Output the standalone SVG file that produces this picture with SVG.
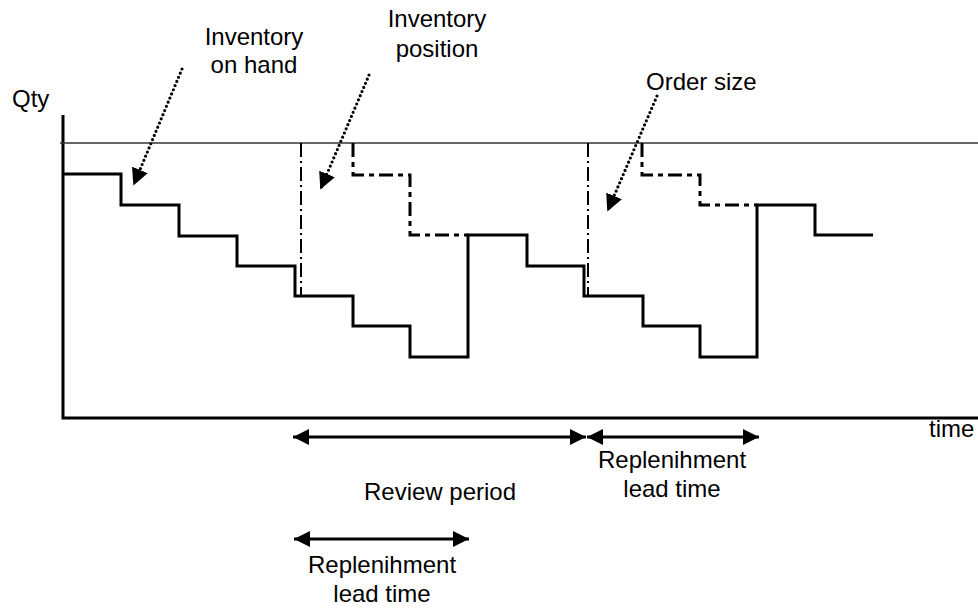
<svg xmlns="http://www.w3.org/2000/svg" width="978" height="610" viewBox="0 0 978 610">
<style>
text{font-family:"Liberation Sans",Arial,sans-serif;font-size:24px;fill:#000}
.axis{stroke:#000;stroke-width:3;fill:none}
.thin{stroke:#333;stroke-width:1.5;fill:none}
.step{stroke:#000;stroke-width:3;fill:none;stroke-linejoin:miter}
.pos{stroke:#000;stroke-width:3;fill:none;stroke-dasharray:14 5 5 5}
.dd{stroke:#000;stroke-width:2;fill:none;stroke-dasharray:14 4 2 4}
.dot{stroke:#000;stroke-width:3.2;fill:none;stroke-dasharray:0 4.5;stroke-linecap:round}
.dbl{stroke:#000;stroke-width:3;fill:none}
</style>
<defs>
<marker id="tri" viewBox="0 0 10 10" refX="9" refY="5" markerWidth="17" markerHeight="17" markerUnits="userSpaceOnUse" orient="auto">
<path d="M0,0 L10,5 L0,10 Z" fill="#000"/>
</marker>
<marker id="ah" viewBox="0 0 10 10" refX="10" refY="5" markerWidth="16" markerHeight="16" markerUnits="userSpaceOnUse" orient="auto-start-reverse">
<path d="M0,0 L10,5 L0,10 Z" fill="#000"/>
</marker>
</defs>
<g id="axes">
<path class="axis" d="M63,115 V418 H978"/>
<path class="thin" d="M60,143 H978"/>
<text x="12" y="107">Qty</text>
<text x="929" y="437">time</text>
</g>
<g id="inventory-on-hand-line">
<path class="step" d="M63,174 H121 V205 H179 V236 H237 V266 H295 V296 H353 V326 H410 V357 H468 V235 H527 V266 H584 V296 H643 V326 H700 V357 H757 V205 H815 V235 H873"/>
</g>
<g id="inventory-position-line">
<path class="pos" d="M353,143 V175 H410 V235 H468"/>
<path class="pos" d="M642,143 V175 H700 V205 H757"/>
</g>
<g id="review-lines">
<path class="dd" d="M301,143 V296"/>
<path class="dd" d="M588,143 V296"/>
</g>
<g id="label-on-hand">
<text x="254" y="45" text-anchor="middle">Inventory</text>
<text x="254" y="73" text-anchor="middle">on hand</text>
</g>
<g id="label-position">
<text x="437" y="27" text-anchor="middle">Inventory</text>
<text x="437" y="57" text-anchor="middle">position</text>
</g>
<g id="label-order-size">
<text x="646" y="90">Order size</text>
</g>
<g id="label-review">
<text x="440" y="500" text-anchor="middle">Review period</text>
</g>
<g id="label-lead-1">
<text x="672" y="468" text-anchor="middle">Replenihment</text>
<text x="672" y="497" text-anchor="middle">lead time</text>
</g>
<g id="label-lead-2">
<text x="382" y="573" text-anchor="middle">Replenihment</text>
<text x="382" y="602" text-anchor="middle">lead time</text>
</g>
<g id="connectors">
<path class="dot" d="M182,69 L134,184" marker-end="url(#tri)"/>
<path class="dot" d="M369,75 L321,188" marker-end="url(#tri)"/>
<path class="dot" d="M657,96 L608,210" marker-end="url(#tri)"/>
<path class="dbl" d="M293,437 H586" marker-start="url(#ah)" marker-end="url(#ah)"/>
<path class="dbl" d="M587,437 H759" marker-start="url(#ah)" marker-end="url(#ah)"/>
<path class="dbl" d="M294,539 H469" marker-start="url(#ah)" marker-end="url(#ah)"/>
</g>
</svg>
